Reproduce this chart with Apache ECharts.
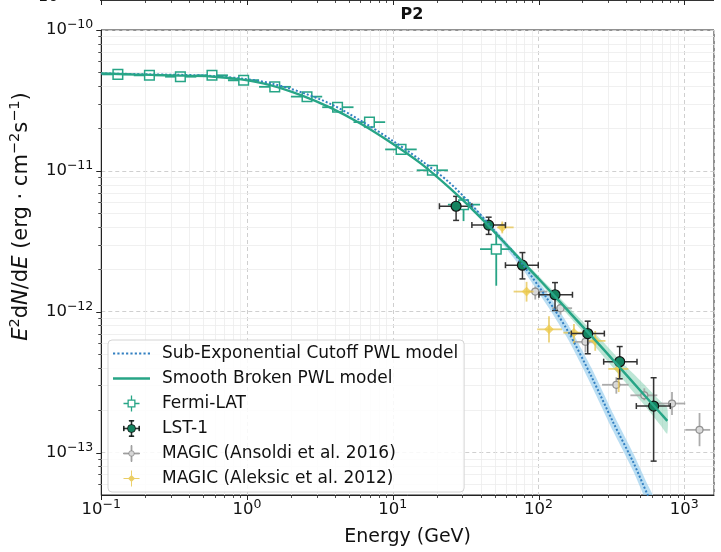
<!DOCTYPE html>
<html>
<head>
<meta charset="utf-8">
<title>P2</title>
<script src="https://cdn.jsdelivr.net/npm/echarts@6/dist/echarts.min.js"></script>
<style>
  html, body { margin: 0; padding: 0; background: #fff; }
  #chart { width: 721px; height: 552px; }
</style>
</head>
<body>
<div id="chart"></div>
<script>
// values: energy in GeV, E^2 dN/dE in erg cm^-2 s^-1
const fermiE   = [0.130, 0.214, 0.349, 0.575, 0.948, 1.55, 2.58, 4.18, 6.92, 11.4, 18.7, 30.6, 51.3];
const fermiElo = [0.1015, 0.167, 0.274, 0.449, 0.740, 1.21, 2.00, 3.28, 5.38, 8.87, 14.6, 23.9, 39.7];
const fermiEhi = [0.167, 0.274, 0.449, 0.740, 1.21, 2.00, 3.28, 5.38, 8.87, 14.6, 23.9, 39.7, 65.8];
const fermiF   = [4.84e-11, 4.77e-11, 4.66e-11, 4.77e-11, 4.40e-11, 3.95e-11, 3.36e-11, 2.83e-11, 2.22e-11, 1.42e-11, 1.01e-11, 5.75e-12, 2.78e-12];
const fermiFlo = [4.70e-11, 4.63e-11, 4.52e-11, 4.62e-11, 4.26e-11, 3.82e-11, 3.24e-11, 2.72e-11, 2.12e-11, 1.34e-11, 9.4e-12, 4.4e-12, 1.53e-12];
const fermiFhi = [4.98e-11, 4.91e-11, 4.80e-11, 4.92e-11, 4.54e-11, 4.08e-11, 3.48e-11, 2.94e-11, 2.32e-11, 1.50e-11, 1.08e-11, 6.6e-12, 3.6e-12];

const lstE   = [27.2, 45.5, 77.6, 129.8, 217.6, 360.6, 616.6];
const lstElo = [20.9, 34.9, 59.3, 100.7, 168, 280, 469];
const lstEhi = [34.9, 59.3, 99.6, 171, 283, 474, 802];
const lstF   = [5.61e-12, 4.12e-12, 2.14e-12, 1.32e-12, 7.0e-13, 4.42e-13, 2.14e-13];
const lstFlo = [4.45e-12, 3.54e-12, 1.71e-12, 1.02e-12, 5.03e-13, 3.34e-13, 8.7e-14];
const lstFhi = [6.59e-12, 4.69e-12, 2.63e-12, 1.61e-12, 8.57e-13, 5.66e-13, 3.40e-13];

// MAGIC (Ansoldi et al. 2016)
const m16E   = [95, 141.6, 210, 342, 532, 824, 1273];
const m16Elo = [84.1, 124, 174, 273, 427, 664, 1016];
const m16Ehi = [115, 170, 238, 415, 653, 1016, 1507];
const m16F   = [1.39e-12, 1.06e-12, 6.11e-13, 3.03e-13, 2.55e-13, 2.23e-13, 1.45e-13];
const m16Flo = [1.22e-12, 9.54e-13, 5.14e-13, 2.62e-13, 2.35e-13, 1.85e-13, 1.11e-13];
const m16Fhi = [1.51e-12, 1.15e-12, 6.73e-13, 3.43e-13, 2.86e-13, 2.69e-13, 1.91e-13];

// MAGIC (Aleksic et al. 2012)
const m12E   = [56.4, 82.8, 118, 175, 245, 355];
const m12Elo = [52.1, 67.5, 98, 148, 220, 301];
const m12Ehi = [67.5, 92.5, 145, 203, 288, 413];
const m12F   = [3.97e-12, 1.39e-12, 7.5e-13, 7.1e-13, 6.21e-13, 3.93e-13];
const m12Flo = [3.60e-12, 1.18e-12, 6.04e-13, 5.91e-13, 5.28e-13, 2.69e-13];
const m12Fhi = [4.37e-12, 1.63e-12, 9.29e-13, 8.17e-13, 7.3e-13, 4.37e-13];

// model curves
const sbplE = [0.1, 0.1605, 0.3017, 0.5668, 0.9096, 1.460, 2.343, 3.761, 6.037, 9.690, 15.55, 24.96, 40.07, 64.31, 103.2, 165.7, 265.9, 426.8, 684.9, 765];
const sbplF = [4.92e-11, 4.84e-11, 4.76e-11, 4.68e-11, 4.46e-11, 4.05e-11, 3.45e-11, 2.80e-11, 2.16e-11, 1.59e-11, 1.13e-11, 7.44e-12, 4.66e-12, 2.78e-12, 1.66e-12, 9.74e-13, 5.72e-13, 3.31e-13, 1.91e-13, 1.68e-13];
const sbplBandE  = [75.28, 103.2, 141.5, 194.0, 265.9, 364.4, 499.5, 684.9, 765];
const sbplBandHi = [2.41e-12, 1.74e-12, 1.24e-12, 8.84e-13, 6.40e-13, 4.49e-13, 3.25e-13, 2.32e-13, 2.07e-13];
const sbplBandLo = [2.26e-12, 1.58e-12, 1.09e-12, 7.53e-13, 5.11e-13, 3.47e-13, 2.35e-13, 1.57e-13, 1.36e-13];

const secE = [0.1, 0.2201, 0.4842, 0.9096, 1.460, 2.343, 3.761, 6.037, 9.690, 15.55, 23.81, 33.69, 47.65, 76.48, 117.1, 160.5, 230.7, 326.3, 447.4, 557.9, 633];
const secF = [4.92e-11, 4.84e-11, 4.76e-11, 4.53e-11, 4.18e-11, 3.62e-11, 2.98e-11, 2.27e-11, 1.67e-11, 1.19e-11, 8.47e-12, 5.94e-12, 3.97e-12, 2.22e-12, 1.20e-12, 7.17e-13, 3.47e-13, 1.63e-13, 8.52e-14, 5.08e-14, 3.93e-14];
const secBandE  = [33.69, 47.65, 76.48, 117.1, 160.5, 230.7, 326.3, 447.4, 557.9, 633];
const secBandHi = [6.03e-12, 4.10e-12, 2.37e-12, 1.32e-12, 8.03e-13, 4.01e-13, 1.88e-13, 9.86e-14, 5.98e-14, 4.54e-14];
const secBandLo = [5.84e-12, 3.78e-12, 2.05e-12, 1.07e-12, 6.30e-13, 3.00e-13, 1.41e-13, 7.37e-14, 4.33e-14, 3.40e-14];

// axes
const xMin = 0.1, xMax = 1600;
const yMin = 5e-14, yMax = 1e-10;
const xMajorTicks = [0.1, 1, 10, 100, 1000];
const yMajorTicks = [1e-13, 1e-12, 1e-11, 1e-10];
const minorSteps = [2, 3, 4, 5, 6, 7, 8, 9];

const FONT = 'DejaVu Sans';
const TEAL = '#27a586';
const BLUE = '#3380c2';

function minorList(lo, hi, k0, k1) {
  const out = [];
  for (let k = k0; k <= k1; k++) {
    minorSteps.forEach(function (d) {
      const v = d * Math.pow(10, k);
      if (v > lo * 1.0001 && v < hi * 0.9999) out.push(v);
    });
  }
  return out;
}
const xMinorTicks = minorList(xMin, xMax, -1, 3);
const yMinorTicks = minorList(yMin, yMax, -14, -11);

function powLabel(v) {
  const p = Math.log10(v);
  const n = Math.round(p);
  if (Math.abs(p - n) > 0.01) return '';
  return '{n|10}{s|' + String(n).replace('-', '−') + '}';
}
const labelRich = {
  n: { fontFamily: FONT, fontSize: 16.5, color: '#111', lineHeight: 17 },
  s: { fontFamily: FONT, fontSize: 12.5, color: '#111', lineHeight: 13, padding: [0, 0, 10, 0] }
};

// tick rows: [x, y, kind] kind 0 x-minor, 1 x-major, 2 y-minor, 3 y-major
const tickRows = []
  .concat(xMinorTicks.map(function (v) { return [v, yMin, 0]; }))
  .concat(xMajorTicks.map(function (v) { return [v, yMin, 1]; }))
  .concat(yMinorTicks.map(function (v) { return [xMin, v, 2]; }))
  .concat(yMajorTicks.map(function (v) { return [xMin, v, 3]; }));

function tickRender(params, api) {
  const cs = params.coordSys;
  const kind = api.value(2);
  const p = api.coord([api.value(0), api.value(1)]);
  const major = kind === 1 || kind === 3;
  const len = major ? 5 : 3;
  const tickStyle = { stroke: '#222', lineWidth: major ? 1 : 0.8 };
  const kids = [];
  if (kind < 2) {
    const x = Math.round(p[0]) + 0.5;
    if (!major) kids.push({ type: 'line', shape: { x1: x, y1: cs.y, x2: x, y2: cs.y + cs.height }, style: { stroke: '#ececec', lineWidth: 0.8 } });
    kids.push({ type: 'line', shape: { x1: x, y1: cs.y + cs.height, x2: x, y2: cs.y + cs.height + len }, style: tickStyle });
    // bottom spine of the panel above, cut by the top edge
    kids.push({ type: 'line', shape: { x1: x, y1: 0, x2: x, y2: len }, style: tickStyle });
  } else {
    const y = Math.round(p[1]) + 0.5;
    if (!major) kids.push({ type: 'line', shape: { x1: cs.x, y1: y, x2: cs.x + cs.width, y2: y }, style: { stroke: '#ececec', lineWidth: 0.8 } });
    kids.push({ type: 'line', shape: { x1: cs.x - len, y1: y, x2: cs.x, y2: y }, style: tickStyle });
  }
  return { type: 'group', children: kids };
}

function bandSeries(name, E, hi, lo, color) {
  return {
    name: name, type: 'custom', coordinateSystem: 'cartesian2d', silent: true, clip: true,
    data: E.map(function (e, i) { return [e, hi[i], lo[i]]; }),
    renderItem: function (params, api) {
      if (params.dataIndex !== 0) return null;
      const pts = [];
      for (let j = 0; j < E.length; j++) pts.push(api.coord([api.value(0, j), api.value(1, j)]));
      for (let j = E.length - 1; j >= 0; j--) pts.push(api.coord([api.value(0, j), api.value(2, j)]));
      return { type: 'polygon', shape: { points: pts, smooth: 0.2 }, style: { fill: color } };
    }
  };
}

function errSeries(name, E, Elo, Ehi, F, Flo, Fhi, sty) {
  return {
    name: name, type: 'custom', coordinateSystem: 'cartesian2d', silent: true,
    data: E.map(function (e, i) { return [e, F[i], Elo[i], Ehi[i], Flo[i], Fhi[i]]; }),
    renderItem: function (params, api) {
      const c = api.coord([api.value(0), api.value(1)]);
      const xl = api.coord([api.value(2), api.value(1)])[0];
      const xr = api.coord([api.value(3), api.value(1)])[0];
      const yb = api.coord([api.value(0), api.value(4)])[1];
      const yt = api.coord([api.value(0), api.value(5)])[1];
      const ls = { stroke: sty.bar, lineWidth: sty.barWidth, opacity: sty.opacity };
      const kids = [
        { type: 'line', shape: { x1: xl, y1: c[1], x2: xr, y2: c[1] }, style: ls },
        { type: 'line', shape: { x1: c[0], y1: yt, x2: c[0], y2: yb }, style: ls }
      ];
      if (sty.cap) {
        const k = sty.cap;
        kids.push({ type: 'line', shape: { x1: xl, y1: c[1] - k, x2: xl, y2: c[1] + k }, style: ls });
        kids.push({ type: 'line', shape: { x1: xr, y1: c[1] - k, x2: xr, y2: c[1] + k }, style: ls });
        kids.push({ type: 'line', shape: { x1: c[0] - k, y1: yt, x2: c[0] + k, y2: yt }, style: ls });
        kids.push({ type: 'line', shape: { x1: c[0] - k, y1: yb, x2: c[0] + k, y2: yb }, style: ls });
      }
      const ms = { fill: sty.fill, stroke: sty.edge, lineWidth: sty.edgeWidth, opacity: sty.opacity };
      const s = sty.size;
      if (sty.marker === 'square') {
        kids.push({ type: 'rect', shape: { x: c[0] - s, y: c[1] - s, width: 2 * s, height: 2 * s }, style: ms });
      } else if (sty.marker === 'diamond') {
        kids.push({ type: 'polygon', shape: { points: [[c[0], c[1] - s], [c[0] + s, c[1]], [c[0], c[1] + s], [c[0] - s, c[1]]] }, style: ms });
      } else {
        kids.push({ type: 'circle', shape: { cx: c[0], cy: c[1], r: s }, style: ms });
      }
      return { type: 'group', children: kids };
    }
  };
}

// legend glyphs
let dots = '';
for (let x = 0; x <= 34; x += 4) dots += 'M' + x + ' 0L' + (x + 2) + ' 0L' + (x + 2) + ' 2L' + x + ' 2Z ';
const ICON_DOTTED = 'path://' + dots;
const ICON_SOLID = 'path://M0 0L36 0L36 2.2L0 2.2Z';
const ICON_FERMI = 'path://M0 9.2L5.4 9.2L5.4 10.8L0 10.8Z M14.6 9.2L20 9.2L20 10.8L14.6 10.8Z M9.2 0L10.8 0L10.8 5.4L9.2 5.4Z M9.2 14.6L10.8 14.6L10.8 20L9.2 20Z M5 5L15 5L15 15L5 15Z M6.6 6.6L6.6 13.4L13.4 13.4L13.4 6.6Z';
const ICON_LST = 'path://M0 9.6L5 9.6L5 10.4L0 10.4Z M15 9.6L20 9.6L20 10.4L15 10.4Z M9.6 0L10.4 0L10.4 5L9.6 5Z M9.6 15L10.4 15L10.4 20L9.6 20Z M0 7L0.8 7L0.8 13L0 13Z M19.2 7L20 7L20 13L19.2 13Z M7 0L13 0L13 0.8L7 0.8Z M7 19.2L13 19.2L13 20L7 20Z M5 10A5 5 0 1 1 15 10A5 5 0 1 1 5 10Z';
const ICON_GRAY = 'path://M0 9.5L6.5 9.5L6.5 10.5L0 10.5Z M13.5 9.5L20 9.5L20 10.5L13.5 10.5Z M9.5 0L10.5 0L10.5 6.5L9.5 6.5Z M9.5 13.5L10.5 13.5L10.5 20L9.5 20Z M6.5 10A3.5 3.5 0 1 1 13.5 10A3.5 3.5 0 1 1 6.5 10Z';
const ICON_GOLD = 'path://M0 9.4L6 9.4L6 10.6L0 10.6Z M14 9.4L20 9.4L20 10.6L14 10.6Z M9.4 0L10.6 0L10.6 6L9.4 6Z M9.4 14L10.6 14L10.6 20L9.4 20Z M10 5.5L14.5 10L10 14.5L5.5 10Z';

const chart = echarts.init(document.getElementById('chart'));
chart.setOption({
  animation: false,
  backgroundColor: '#fff',
  textStyle: { fontFamily: FONT },
  title: {
    text: 'P2', left: 407, top: 2, textAlign: 'center',
    textStyle: { fontFamily: FONT, fontSize: 16, fontWeight: 'bold', color: '#111' }
  },
  grid: { left: 100, right: 7, top: 30, bottom: 52, show: true, borderColor: '#222', borderWidth: 1, backgroundColor: 'transparent' },
  legend: {
    left: 108, top: 340, orient: 'vertical',
    padding: [5, 6, 5, 5],
    itemWidth: 37, itemHeight: 16, itemGap: 8,
    backgroundColor: 'rgba(255,255,255,0.85)', borderColor: '#d4d4d4', borderWidth: 1, borderRadius: 4,
    textStyle: { fontFamily: FONT, fontSize: 17, color: '#111', padding: [0, 0, 0, 7] },
    selectedMode: false,
    data: [
      { name: 'Sub-Exponential Cutoff PWL model', icon: ICON_DOTTED, itemStyle: { color: BLUE, borderWidth: 0 } },
      { name: 'Smooth Broken PWL model', icon: ICON_SOLID, itemStyle: { color: TEAL, borderWidth: 0 } },
      { name: 'Fermi-LAT', icon: ICON_FERMI, itemStyle: { color: TEAL, borderWidth: 0 } },
      { name: 'LST-1', icon: ICON_LST, itemStyle: { color: '#15835f', borderColor: '#111', borderWidth: 0.8 } },
      { name: 'MAGIC (Ansoldi et al. 2016)', icon: ICON_GRAY, itemStyle: { color: '#d6d6d6', borderColor: '#8a8a8a', borderWidth: 0.8 } },
      { name: 'MAGIC (Aleksic et al. 2012)', icon: ICON_GOLD, itemStyle: { color: 'rgba(232,197,74,0.85)', borderWidth: 0 } }
    ]
  },
  xAxis: {
    type: 'log', logBase: 10, min: xMin, max: xMax,
    name: 'Energy (GeV)', nameLocation: 'middle', nameGap: 33,
    nameTextStyle: { fontFamily: FONT, fontSize: 19, color: '#111' },
    axisLine: { show: true, onZero: false, lineStyle: { color: '#222', width: 1 } },
    axisTick: { show: false },
    axisLabel: { formatter: powLabel, rich: labelRich, margin: 6, showMaxLabel: false },
    splitLine: { show: true, lineStyle: { color: '#cfcfcf', type: [4, 3], width: 1 } }
  },
  yAxis: {
    type: 'log', logBase: 10, min: yMin, max: yMax,
    name: '{i|E}{s|2}d{i|N}/d{i|E} (erg · cm{s|−2}s{s|−1})', nameLocation: 'middle', nameRotate: 90, nameGap: 64,
    nameTextStyle: {
      fontFamily: FONT, fontSize: 21, color: '#111', padding: [0, 0, 0, 92],
      rich: {
        i: { fontFamily: FONT, fontSize: 21, fontStyle: 'italic', color: '#111' },
        s: { fontFamily: FONT, fontSize: 14.5, color: '#111', lineHeight: 14, padding: [0, 0, 12, 0] }
      }
    },
    axisLine: { show: true, onZero: false, lineStyle: { color: '#222', width: 1 } },
    axisTick: { show: false },
    axisLabel: { formatter: powLabel, rich: labelRich, margin: 8, showMinLabel: false },
    splitLine: { show: true, lineStyle: { color: '#cfcfcf', type: [4, 3], width: 1 } }
  },
  graphic: [
    { type: 'line', shape: { x1: 100, y1: 0.5, x2: 714, y2: 0.5 }, style: { stroke: '#333', lineWidth: 1 } },
    { type: 'text', left: 38, top: -11, style: { text: '10', fontFamily: FONT, fontSize: 16, fill: '#111' } }
  ],
  series: [
    { name: 'ticks', type: 'custom', coordinateSystem: 'cartesian2d', silent: true, clip: false, data: tickRows, renderItem: tickRender },
    bandSeries('secBand', secBandE, secBandHi, secBandLo, 'rgba(140,200,235,0.6)'),
    bandSeries('sbplBand', sbplBandE, sbplBandHi, sbplBandLo, 'rgba(110,200,165,0.45)'),
    {
      name: 'Sub-Exponential Cutoff PWL model', type: 'line', symbol: 'none', smooth: 0.3, silent: true,
      data: secE.map(function (e, i) { return [e, secF[i]]; }),
      lineStyle: { color: BLUE, width: 2, type: [2, 2] }, itemStyle: { color: BLUE }
    },
    {
      name: 'Smooth Broken PWL model', type: 'line', symbol: 'none', smooth: 0.3, silent: true,
      data: sbplE.map(function (e, i) { return [e, sbplF[i]]; }),
      lineStyle: { color: TEAL, width: 2.4 }, itemStyle: { color: TEAL }
    },
    errSeries('Fermi-LAT', fermiE, fermiElo, fermiEhi, fermiF, fermiFlo, fermiFhi,
      { bar: TEAL, barWidth: 1.8, marker: 'square', size: 4.8, fill: '#fff', edge: TEAL, edgeWidth: 1.5, opacity: 1 }),
    errSeries('MAGIC (Ansoldi et al. 2016)', m16E, m16Elo, m16Ehi, m16F, m16Flo, m16Fhi,
      { bar: '#a3a3a3', barWidth: 1.8, marker: 'circle', size: 3.5, fill: '#dcdcdc', edge: '#8a8a8a', edgeWidth: 1.2, opacity: 0.9 }),
    errSeries('MAGIC (Aleksic et al. 2012)', m12E, m12Elo, m12Ehi, m12F, m12Flo, m12Fhi,
      { bar: '#e6c34c', barWidth: 1.8, marker: 'diamond', size: 4.5, fill: '#ecc94a', edge: '#ecc94a', edgeWidth: 0.5, opacity: 0.75 }),
    errSeries('LST-1', lstE, lstElo, lstEhi, lstF, lstFlo, lstFhi,
      { bar: '#333', barWidth: 1.5, cap: 3, marker: 'circle', size: 5, fill: '#15835f', edge: '#111', edgeWidth: 1.2, opacity: 1 })
  ]
});
</script>
</body>
</html>
